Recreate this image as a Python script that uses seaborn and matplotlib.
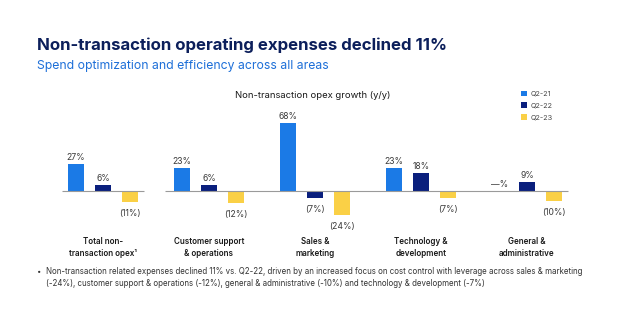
import matplotlib
matplotlib.use("Agg")
import matplotlib.pyplot as plt
from matplotlib.patches import Patch
import seaborn as sns
import pandas as pd

categories = ["Total non-\ntransaction opex\u00b9", "Customer support\n& operations",
              "Sales &\nmarketing", "Technology &\ndevelopment", "General &\nadministrative"]
periods = ["Q2-21", "Q2-22", "Q2-23"]
q2_21 = [27, 23, 68, 23, 0]
q2_22 = [6, 6, -7, 18, 9]
q2_23 = [-11, -12, -24, -7, -10]

colors = ["#1b7ae6", "#0a1f7d", "#fad046"]

rows = []
for p, vals in zip(periods, [q2_21, q2_22, q2_23]):
    for c, v in zip(categories, vals):
        rows.append({"category": c, "period": p, "value": v})
df = pd.DataFrame(rows)

sns.set_theme(style="white")
plt.rcParams['font.family'] = ['Inter', 'DejaVu Sans']

W, H = 640, 336
fig = plt.figure(figsize=(W / 100, H / 100), dpi=100)

def fx(px):
    return px / W

def fy(py):
    return 1 - py / H

# axes: x 37..600 px, y 120..230 px
ax = fig.add_axes([fx(37), fy(230), fx(600) - fx(37), (230 - 120) / H])
sns.barplot(data=df, x="category", y="value", hue="period", palette=colors,
            width=0.764, gap=0.38, ax=ax, legend=False, saturation=1,
            linewidth=0, edgecolor="none")

unit = 106.0
ax.set_xlim((37 - 103) / unit, (600 - 103) / unit)
ax.set_ylim(-39, 71)

def fmt(v):
    if v > 0:
        return f"{v:g}%"
    if v < 0:
        return f"({-v:g}%)"
    return "\u2014%"

for cont, vals in zip(ax.containers, [q2_21, q2_22, q2_23]):
    labs = [fmt(v) for v in vals]
    texts = ax.bar_label(cont, labels=labs, padding=1.5, fontsize=6.2, color="#3a3a3a")
    for t, v in zip(texts, vals):
        if v < 0:
            t.xyann = (0, -5)

ax.hlines(0, (62 - 103) / unit, (144 - 103) / unit, color="#9a9a9a", lw=0.8)
ax.hlines(0, (165 - 103) / unit, (568 - 103) / unit, color="#9a9a9a", lw=0.8)

for s in ax.spines.values():
    s.set_visible(False)
ax.set_yticks([])
ax.set_xlabel("")
ax.set_ylabel("")
ax.tick_params(axis="x", length=0, pad=5)
for lab in ax.get_xticklabels():
    lab.set_fontsize(5.8)
    lab.set_fontweight("semibold")
    lab.set_color("#1a1a1a")
    lab.set_linespacing(1.5)

handles = [Patch(facecolor=c, edgecolor="none") for c in colors]
fig.legend(handles, periods, loc="upper left", bbox_to_anchor=(fx(514), fy(84)),
           frameon=False, fontsize=5.2, handlelength=0.9, handleheight=0.9,
           handletextpad=0.5, labelspacing=0.75, labelcolor="#444444")

fig.text(fx(37), fy(45), "Non-transaction operating expenses declined 11%",
         fontsize=12.1, fontweight="bold", color="#0c1f5b", va="center", ha="left")
fig.text(fx(37), fy(66), "Spend optimization and efficiency across all areas",
         fontsize=8.8, color="#1d6fd8", va="center", ha="left")
fig.text(fx(313), fy(95), "Non-transaction opex growth (y/y)",
         fontsize=6.8, color="#1a1a1a", va="center", ha="center")

fig.text(fx(37), fy(272), "\u2022", fontsize=5.6, color="#333333", va="center", ha="left")
fig.text(fx(46), fy(277.5),
         "Non-transaction related expenses declined 11% vs. Q2-22, driven by an increased focus on cost control with leverage across sales & marketing\n"
         "(-24%), customer support & operations (-12%), general & administrative (-10%) and technology & development (-7%)",
         fontsize=5.7, color="#333333", va="center", ha="left", linespacing=1.4)

fig.savefig("out.png", dpi=100, facecolor="white")
